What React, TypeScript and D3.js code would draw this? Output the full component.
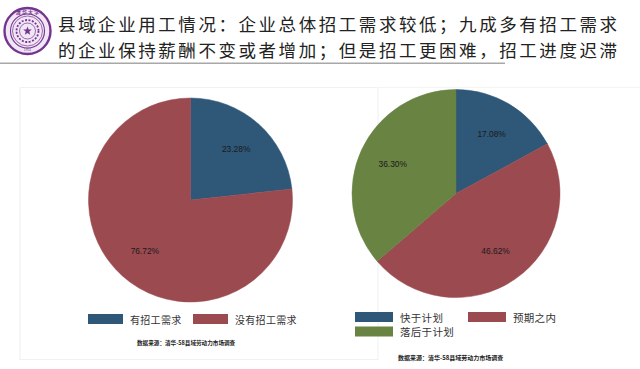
import React from "react";
import * as d3 from "d3";

const titleLines = [
  "县域企业用工情况：企业总体招工需求较低；九成多有招工需求",
  "的企业保持薪酬不变或者增加；但是招工更困难，招工进度迟滞",
];

const leftCategories = ["有招工需求", "没有招工需求"];
const leftValues = [23.28, 76.72];

const rightCategories = ["快于计划", "预期之内", "落后于计划"];
const rightValues = [17.08, 46.62, 36.3];

const sourceText = "数据来源：清华-58县域劳动力市场调查";

const colors = ["#2f5778", "#9b4a50", "#688342"];

type PieProps = { values: number[]; cx: number; cy: number; r: number };

function Pie({ values, cx, cy, r }: PieProps) {
  const pie = d3.pie<number>().sort(null).value((d) => d);
  const arcs = pie(values);
  const arc = d3.arc<d3.PieArcDatum<number>>().innerRadius(0).outerRadius(r);
  const labelArc = d3
    .arc<d3.PieArcDatum<number>>()
    .innerRadius(r * 0.67)
    .outerRadius(r * 0.67);
  return (
    <g transform={`translate(${cx},${cy})`}>
      {arcs.map((a, i) => (
        <path key={i} d={arc(a) || ""} fill={colors[i]} stroke={colors[i]} strokeWidth={0.5} />
      ))}
      {arcs.map((a, i) => {
        const [x, y] = labelArc.centroid(a);
        return (
          <text
            key={"t" + i}
            x={x}
            y={y}
            textAnchor="middle"
            dominantBaseline="central"
            fontFamily="'Liberation Sans', Arial, sans-serif"
            fontSize={8.4}
            fill="#1a1a1a"
          >
            {d3.format(".2f")(a.data) + "%"}
          </text>
        );
      })}
    </g>
  );
}

function Logo({ cx, cy }: { cx: number; cy: number }) {
  const purple = "#74358f";
  const star = d3.range(10).map((i) => {
    const ang = (i * Math.PI) / 5 - Math.PI / 2;
    const rr = i % 2 === 0 ? 4.5 : 1.9;
    return [Math.cos(ang) * rr, Math.sin(ang) * rr];
  });
  return (
    <g transform={`translate(${cx},${cy})`}>
      <circle r={23} fill="#f1e6f5" stroke={purple} strokeWidth={2.4} />
      <circle r={17} fill="none" stroke={purple} strokeWidth={1.1} />
      <circle r={15} fill="none" stroke={purple} strokeWidth={0.7} />
      <circle r={11} fill="none" stroke={purple} strokeWidth={1.8} strokeDasharray="2 1.5" />
      <circle r={8} fill="none" stroke={purple} strokeWidth={0.7} />
      <path d={"M" + star.map((p) => p.join(",")).join("L") + "Z"} fill={purple} />
      <text y={-17.5} textAnchor="middle" fontSize={5} fill={purple} fontFamily="'Noto Sans CJK SC'" fontWeight="bold">
        清 华 大 学
      </text>
      <text y={20} textAnchor="middle" fontSize={3.5} fill={purple} fontFamily="'Liberation Sans'">
        1911
      </text>
    </g>
  );
}

export default function App() {
  const cjk = "'Noto Sans CJK SC', sans-serif";
  return (
    <svg
      width={640}
      height={369}
      style={{ position: "absolute", left: 0, top: 0, background: "#fff" }}
    >
      <rect width={640} height={369} fill="#fff" />
      <Logo cx={27.5} cy={31} />
      {titleLines.map((t, i) => (
        <text
          key={i}
          x={58}
          y={31 + i * 25.5}
          fontFamily={cjk}
          fontSize={17.5}
          fill="#222"
          fontWeight={400}
          textLength={559}
          lengthAdjust="spacing"
        >
          {t}
        </text>
      ))}
      <rect x={0} y={62.5} width={505} height={1.5} fill="#a8a8a8" />

      {/* faint panel frame */}
      <rect x={20} y={87.5} width={358} height={272} fill="none" stroke="#eef2f2" strokeWidth={1} />
      <line x1={378} y1={87.5} x2={640} y2={87.5} stroke="#f3f5f5" strokeWidth={1} />

      <Pie values={leftValues} cx={190.5} cy={200} r={102} />
      <Pie values={rightValues} cx={456} cy={193.5} r={104} />

      {/* left legend */}
      {leftCategories.map((c, i) => {
        const x0 = [88, 193][i];
        return (
          <g key={c}>
            <rect x={x0} y={314} width={35} height={10} fill={colors[i]} />
            <text x={x0 + 42} y={319} dominantBaseline="central" fontFamily={cjk} fontSize={10} fill="#333" letterSpacing={0.3}>
              {c}
            </text>
          </g>
        );
      })}
      <text x={137} y={343} dominantBaseline="central" fontFamily={cjk} fontSize={5.6} fontWeight="bold" fill="#222">
        {sourceText}
      </text>

      {/* right legend */}
      {rightCategories.map((c, i) => {
        const x0 = [355, 468, 355][i];
        const y0 = [312, 312, 326.5][i];
        return (
          <g key={c}>
            <rect x={x0} y={y0} width={38} height={10} fill={colors[i]} />
            <text x={x0 + 45} y={y0 + 5} dominantBaseline="central" fontFamily={cjk} fontSize={10.5} fill="#333" letterSpacing={0.3}>
              {c}
            </text>
          </g>
        );
      })}
      <text x={398} y={357} dominantBaseline="central" fontFamily={cjk} fontSize={6} fontWeight="bold" fill="#222">
        {sourceText}
      </text>
    </svg>
  );
}
